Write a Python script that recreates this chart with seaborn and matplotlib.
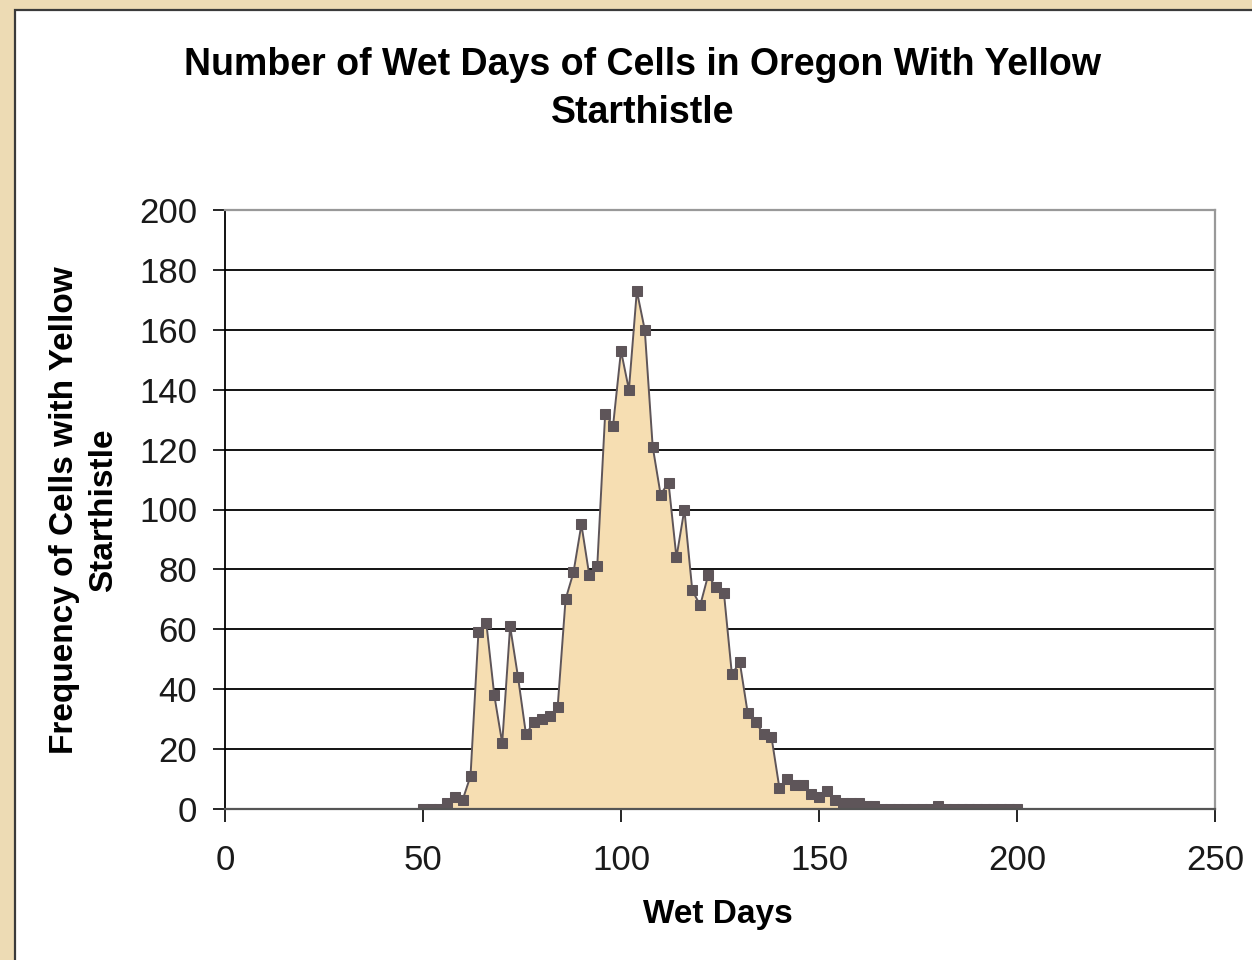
import numpy as np
import pandas as pd
import matplotlib
matplotlib.use("Agg")
import matplotlib.pyplot as plt
import seaborn as sns
from matplotlib.patches import Rectangle

# ---- data ----
wet_days = list(range(50, 202, 2))
frequency = [0, 0, 0, 2, 4, 3, 11, 59, 62, 38,
             22, 61, 44, 25, 29, 30, 31, 34, 70, 79,
             95, 78, 81, 132, 128, 153, 140, 173, 160, 121,
             105, 109, 84, 100, 73, 68, 78, 74, 72, 45,
             49, 32, 29, 25, 24, 7, 10, 8, 8, 5,
             4, 6, 3, 2, 2, 2, 1, 1, 0, 0,
             0, 0, 0, 0, 0, 1, 0, 0, 0, 0,
             0, 0, 0, 0, 0, 0]
x_ticks = [0, 50, 100, 150, 200, 250]
y_ticks = [0, 20, 40, 60, 80, 100, 120, 140, 160, 180, 200]
title = "Number of Wet Days of Cells in Oregon With Yellow\nStarthistle"
x_label = "Wet Days"
y_label = "Frequency of Cells with Yellow\nStarthistle"

df = pd.DataFrame({"Wet Days": wet_days, "Frequency": frequency})

sns.set_style("white")
plt.rcParams["font.family"] = ["Liberation Sans", "DejaVu Sans"]

fig = plt.figure(figsize=(12.52, 9.60), dpi=100)
fig.patch.set_facecolor("#EDDBB4")

# white chart area box with dark border
box = Rectangle((15 / 1252, -0.05), 1.2, 1 - 10 / 960 + 0.05,
                transform=fig.transFigure, facecolor="white",
                edgecolor="#3a3a3a", linewidth=1.6, zorder=-10)
fig.patches.append(box)

ax = fig.add_axes([225 / 1252, 1 - 809 / 960, (1215 - 225) / 1252, (809 - 210) / 960])
ax.set_zorder(5)
ax.set_facecolor("white")

line_col = "#5E5559"
ax.fill_between(df["Wet Days"], df["Frequency"], 0, color="#F6DEB2",
                linewidth=0, zorder=2)
sns.lineplot(data=df, x="Wet Days", y="Frequency", ax=ax, color=line_col,
             linewidth=1.4, marker="s", markersize=7,
             markeredgecolor=line_col, markerfacecolor=line_col, zorder=3)

ax.set_xlim(0, 250)
ax.set_ylim(0, 200)
ax.set_xticks(x_ticks)
ax.set_yticks(y_ticks)
ax.set_xticklabels([str(t) for t in x_ticks])
ax.set_yticklabels([str(t) for t in y_ticks])

for yv in y_ticks[1:-1]:
    ax.axhline(yv, color="black", linewidth=1.3, zorder=1)

ax.spines["left"].set_color("black")
ax.spines["left"].set_linewidth(1.3)
ax.spines["bottom"].set_color("#555555")
ax.spines["bottom"].set_linewidth(1.6)
ax.spines["top"].set_color("#999999")
ax.spines["top"].set_linewidth(1.6)
ax.spines["right"].set_color("#999999")
ax.spines["right"].set_linewidth(1.6)
for s in ax.spines.values():
    s.set_zorder(4)

ax.tick_params(axis="both", which="major", direction="out", length=9,
               width=1.2, color="black", labelsize=25, labelcolor="#1a1a1a")
ax.tick_params(axis="x", pad=16, bottom=True)
ax.tick_params(axis="y", pad=11, left=True)
ax.set_xlabel("")
ax.set_ylabel("")

fig.text(0.513, 1 - 89 / 960, title, ha="center", va="center",
         fontsize=27, fontweight="bold", linespacing=1.4, color="black")
fig.text(718 / 1252, 1 - 915 / 960, x_label, ha="center", va="center",
         fontsize=24, fontweight="bold", color="black")
fig.text(84 / 1252, 1 - 510 / 960, y_label, ha="center", va="center",
         rotation=90, fontsize=24, fontweight="bold", linespacing=1.35,
         color="black")

fig.savefig("out.png", dpi=100, facecolor=fig.get_facecolor())
